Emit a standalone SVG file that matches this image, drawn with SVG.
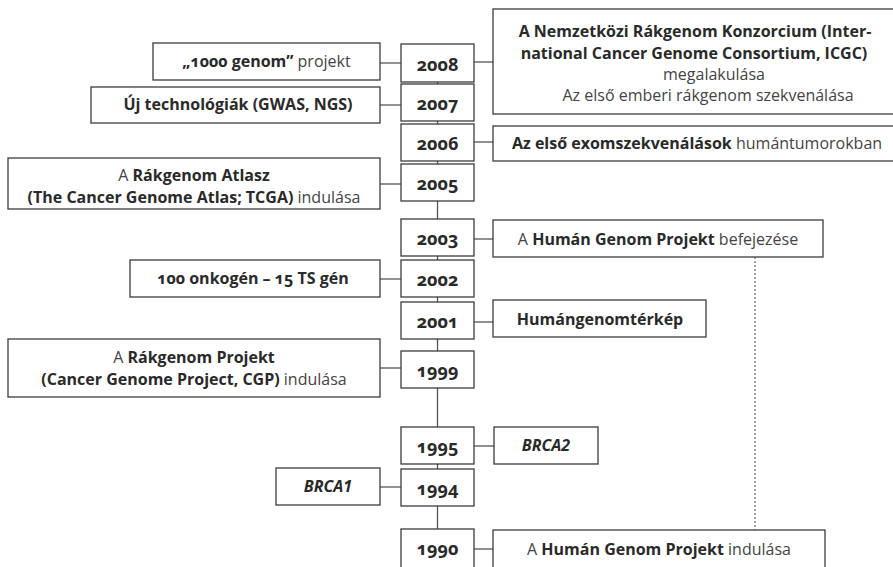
<svg xmlns="http://www.w3.org/2000/svg" width="893" height="567" viewBox="0 0 893 567">
  <style>
    .box { fill: #fff; stroke: #3c3c3c; stroke-width: 1.3; }
    .conn { fill: none; stroke: #555; stroke-width: 1.3; }
    .dot { fill: none; stroke: #777; stroke-width: 1.3; stroke-dasharray: 2 2; }
    text { font-family: "Open Sans", Lato, "Noto Sans", sans-serif; font-size: 16px; fill: #2a2a2a; text-anchor: middle; font-variant-numeric: oldstyle-nums; font-feature-settings: "onum"; }
    .b { font-weight: 700; }
    .l { font-weight: 400; fill: #444; }
    .i { font-weight: 700; font-style: italic; font-variant-numeric: lining-nums; font-feature-settings: "lnum"; }
    .yr { font-weight: 700; font-size: 18px; }
  </style>

  <!-- timeline spine and side connectors -->
  <g id="connectors">
    <line class="conn" x1="437.5" y1="82" x2="437.5" y2="567"/>
    <line class="conn" x1="380" y1="63" x2="401" y2="63"/>
    <line class="conn" x1="474" y1="62" x2="493" y2="62"/>
    <line class="conn" x1="380" y1="105" x2="401" y2="105"/>
    <line class="conn" x1="474" y1="142" x2="493" y2="142"/>
    <line class="conn" x1="380" y1="184" x2="401" y2="184"/>
    <line class="conn" x1="474" y1="239" x2="493" y2="239"/>
    <line class="conn" x1="380" y1="279" x2="401" y2="279"/>
    <line class="conn" x1="474" y1="322" x2="493" y2="322"/>
    <line class="conn" x1="380" y1="368" x2="401" y2="368"/>
    <line class="conn" x1="474" y1="446" x2="494" y2="446"/>
    <line class="conn" x1="380" y1="487" x2="401" y2="487"/>
    <line class="conn" x1="474" y1="549" x2="493" y2="549"/>
    <line class="dot" x1="755" y1="257" x2="755" y2="530"/>
  </g>

  <!-- year boxes -->
  <g id="y2008"><rect class="box" x="401" y="44" width="73" height="38"/><text class="yr" x="437.5" y="71">2008</text></g>
  <g id="y2007"><rect class="box" x="401" y="84" width="73" height="37"/><text class="yr" x="437.5" y="110">2007</text></g>
  <g id="y2006"><rect class="box" x="401" y="124" width="73" height="37"/><text class="yr" x="437.5" y="150">2006</text></g>
  <g id="y2005"><rect class="box" x="401" y="164" width="73" height="37"/><text class="yr" x="437.5" y="190">2005</text></g>
  <g id="y2003"><rect class="box" x="401" y="219" width="73" height="37"/><text class="yr" x="437.5" y="245">2003</text></g>
  <g id="y2002"><rect class="box" x="401" y="260" width="73" height="37"/><text class="yr" x="437.5" y="286">2002</text></g>
  <g id="y2001"><rect class="box" x="401" y="302" width="73" height="37"/><text class="yr" x="437.5" y="328">2001</text></g>
  <g id="y1999"><rect class="box" x="401" y="351" width="73" height="37"/><text class="yr" x="437.5" y="377">1999</text></g>
  <g id="y1995"><rect class="box" x="401" y="427" width="73" height="37"/><text class="yr" x="437.5" y="453">1995</text></g>
  <g id="y1994"><rect class="box" x="401" y="469" width="73" height="37"/><text class="yr" x="437.5" y="495">1994</text></g>
  <g id="y1990"><rect class="box" x="401" y="529" width="73" height="40"/><text class="yr" x="437.5" y="555">1990</text></g>

  <!-- event boxes, left side -->
  <g id="e1000genom">
    <rect class="box" x="153" y="43" width="227" height="37"/>
    <text x="266.5" y="67"><tspan class="b">„1000 genom”</tspan><tspan class="l"> projekt</tspan></text>
  </g>
  <g id="eTech">
    <rect class="box" x="91" y="87" width="289" height="36"/>
    <text class="b" x="238" y="110">Új technológiák (GWAS, NGS)</text>
  </g>
  <g id="eTCGA">
    <rect class="box" x="8" y="158" width="372" height="51"/>
    <text x="194" y="181"><tspan class="l">A </tspan><tspan class="b">Rákgenom Atlasz</tspan></text>
    <text x="194" y="203"><tspan class="b">(The Cancer Genome Atlas; TCGA)</tspan><tspan class="l"> indulása</tspan></text>
  </g>
  <g id="eOnko">
    <rect class="box" x="130" y="260" width="250" height="37"/>
    <text class="b" x="253" y="284">100 onkogén – 15 TS gén</text>
  </g>
  <g id="eCGP">
    <rect class="box" x="8" y="339" width="372" height="58"/>
    <text x="194" y="363"><tspan class="l">A </tspan><tspan class="b">Rákgenom Projekt</tspan></text>
    <text x="194" y="385"><tspan class="b">(Cancer Genome Project, CGP)</tspan><tspan class="l"> indulása</tspan></text>
  </g>
  <g id="eBRCA1">
    <rect class="box" x="276" y="468" width="104" height="37"/>
    <text class="i" x="328" y="492">BRCA1</text>
  </g>

  <!-- event boxes, right side -->
  <g id="eICGC">
    <rect class="box" x="493" y="9" width="402" height="105"/>
    <text class="b" x="695" y="37">A Nemzetközi Rákgenom Konzorcium (Inter-</text>
    <text class="b" x="694" y="59">national Cancer Genome Consortium, ICGC)</text>
    <text class="l" x="714" y="80">megalakulása</text>
    <text class="l" x="708" y="101">Az első emberi rákgenom szekvenálása</text>
  </g>
  <g id="eExom">
    <rect class="box" x="493" y="126" width="402" height="35"/>
    <text x="697" y="149"><tspan class="b">Az első exomszekvenálások</tspan><tspan class="l"> humántumorokban</tspan></text>
  </g>
  <g id="eHGPend">
    <rect class="box" x="493" y="220" width="330" height="37"/>
    <text x="658" y="245"><tspan class="l">A </tspan><tspan class="b">Humán Genom Projekt</tspan><tspan class="l"> befejezése</tspan></text>
  </g>
  <g id="eMap">
    <rect class="box" x="493" y="300" width="213" height="37"/>
    <text class="b" x="600" y="325">Humángenomtérkép</text>
  </g>
  <g id="eBRCA2">
    <rect class="box" x="494" y="427" width="104" height="37"/>
    <text class="i" x="546" y="451">BRCA2</text>
  </g>
  <g id="eHGPstart">
    <rect class="box" x="493" y="530" width="332" height="40"/>
    <text x="659" y="555"><tspan class="l">A </tspan><tspan class="b">Humán Genom Projekt</tspan><tspan class="l"> indulása</tspan></text>
  </g>
</svg>
